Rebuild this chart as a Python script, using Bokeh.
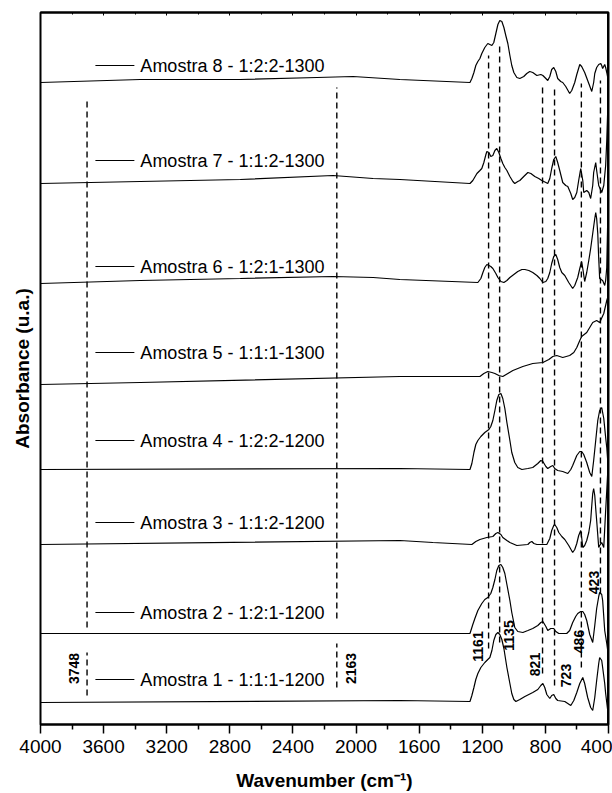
import math
from bokeh.plotting import figure
from bokeh.models import Range1d, LinearAxis, FixedTicker, Span
from bokeh.core.properties import value
from bokeh.embed import file_html
from bokeh.resources import INLINE

FONT = "Liberation Sans"

# ---------------- data ----------------
wn8 = [4000, 3367, 2734, 2247, 2019, 1722, 1278, 1266, 1253, 1241, 1228, 1215, 1203, 1184, 1165, 1152, 1139, 1127, 1114, 1101, 1089, 1076, 1063, 1051, 1038, 1025, 1013, 1000, 981, 962, 937, 918, 899, 880, 854, 829, 816, 797, 785, 772, 760, 747, 734, 722, 703, 690, 671, 646, 633, 614, 601, 582, 570, 551, 532, 506, 494, 487, 475, 462, 449, 443, 437, 424, 418, 411, 405]
ab8 = [6.42, 6.45, 6.45, 6.47, 6.48, 6.45, 6.42, 6.46, 6.52, 6.59, 6.63, 6.66, 6.71, 6.77, 6.81, 6.80, 6.79, 6.82, 6.91, 7.00, 7.04, 7.03, 6.97, 6.89, 6.81, 6.69, 6.59, 6.52, 6.47, 6.46, 6.48, 6.51, 6.53, 6.52, 6.49, 6.50, 6.49, 6.46, 6.44, 6.48, 6.55, 6.57, 6.53, 6.46, 6.43, 6.42, 6.38, 6.31, 6.34, 6.42, 6.50, 6.60, 6.58, 6.52, 6.44, 6.33, 6.42, 6.51, 6.57, 6.60, 6.61, 6.59, 6.56, 6.60, 6.57, 6.52, 6.47]

wn7 = [4000, 3367, 2734, 2146, 1892, 1722, 1278, 1260, 1234, 1215, 1203, 1190, 1177, 1171, 1158, 1146, 1133, 1120, 1108, 1095, 1082, 1070, 1057, 1044, 1025, 1006, 994, 975, 962, 937, 911, 892, 867, 842, 823, 797, 785, 772, 760, 747, 734, 722, 709, 690, 671, 658, 639, 627, 614, 601, 589, 576, 563, 557, 538, 525, 513, 500, 494, 481, 475, 462, 443, 430, 418, 411, 405]
ab7 = [5.41, 5.43, 5.45, 5.49, 5.46, 5.45, 5.41, 5.44, 5.51, 5.54, 5.56, 5.62, 5.70, 5.73, 5.72, 5.68, 5.69, 5.74, 5.76, 5.72, 5.66, 5.61, 5.57, 5.54, 5.48, 5.43, 5.41, 5.43, 5.44, 5.48, 5.52, 5.51, 5.48, 5.46, 5.44, 5.42, 5.41, 5.46, 5.56, 5.65, 5.68, 5.62, 5.54, 5.42, 5.39, 5.38, 5.31, 5.25, 5.27, 5.32, 5.44, 5.56, 5.44, 5.32, 5.34, 5.32, 5.26, 5.39, 5.52, 5.62, 5.54, 5.39, 5.32, 5.39, 5.59, 5.84, 6.14]

wn6 = [4000, 3367, 2734, 2146, 1892, 1722, 1228, 1209, 1196, 1184, 1171, 1158, 1146, 1133, 1114, 1101, 1082, 1063, 1044, 1025, 1000, 975, 949, 930, 905, 880, 854, 835, 816, 797, 785, 772, 760, 747, 734, 722, 709, 696, 677, 652, 627, 614, 595, 582, 570, 563, 551, 538, 525, 513, 500, 487, 481, 475, 468, 462, 456, 437, 424, 418, 411, 405]
ab6 = [4.41, 4.44, 4.46, 4.48, 4.47, 4.45, 4.42, 4.46, 4.52, 4.57, 4.60, 4.59, 4.58, 4.56, 4.51, 4.47, 4.43, 4.42, 4.44, 4.47, 4.50, 4.53, 4.55, 4.55, 4.54, 4.52, 4.49, 4.46, 4.42, 4.43, 4.46, 4.52, 4.61, 4.68, 4.70, 4.65, 4.57, 4.52, 4.49, 4.42, 4.36, 4.39, 4.47, 4.56, 4.63, 4.56, 4.43, 4.52, 4.64, 4.76, 4.91, 5.06, 5.12, 5.06, 4.91, 4.66, 4.46, 4.44, 4.39, 4.44, 4.57, 5.04]

wn5 = [4000, 3367, 1722, 1215, 1190, 1165, 1139, 1120, 1095, 1070, 1038, 1006, 943, 880, 816, 778, 753, 728, 690, 646, 620, 601, 582, 570, 538, 519, 500, 475, 456, 430, 411, 405]
ab5 = [3.40, 3.42, 3.48, 3.48, 3.51, 3.53, 3.52, 3.51, 3.49, 3.48, 3.51, 3.54, 3.58, 3.61, 3.62, 3.65, 3.68, 3.69, 3.67, 3.69, 3.72, 3.77, 3.84, 3.88, 3.92, 3.97, 4.02, 4.04, 4.02, 4.11, 4.24, 4.27]

wn4 = [4000, 1722, 1278, 1266, 1253, 1241, 1228, 1209, 1184, 1158, 1146, 1133, 1120, 1108, 1095, 1082, 1070, 1057, 1044, 1025, 1013, 994, 975, 949, 911, 880, 848, 829, 816, 797, 785, 766, 753, 741, 722, 690, 658, 639, 627, 614, 601, 582, 570, 557, 538, 519, 506, 494, 481, 468, 456, 443, 430, 418, 411, 405]
ab4 = [2.55, 2.56, 2.55, 2.61, 2.72, 2.80, 2.84, 2.88, 2.92, 2.95, 2.98, 3.04, 3.14, 3.24, 3.30, 3.31, 3.26, 3.16, 3.02, 2.84, 2.72, 2.62, 2.57, 2.55, 2.56, 2.57, 2.61, 2.64, 2.63, 2.58, 2.56, 2.58, 2.59, 2.56, 2.54, 2.53, 2.51, 2.55, 2.59, 2.64, 2.69, 2.73, 2.73, 2.70, 2.62, 2.52, 2.48, 2.64, 2.84, 3.04, 3.14, 3.17, 3.06, 2.87, 2.77, 2.64]

wn3 = [4000, 1722, 1513, 1266, 1241, 1215, 1171, 1133, 1114, 1101, 1082, 1070, 1044, 1025, 981, 911, 899, 886, 873, 854, 791, 772, 760, 747, 741, 728, 715, 696, 677, 652, 627, 614, 601, 589, 576, 570, 563, 551, 538, 525, 513, 506, 500, 494, 487, 481, 475, 462, 456, 443, 430, 418, 411, 405]
ab3 = [1.80, 1.84, 1.82, 1.80, 1.83, 1.85, 1.87, 1.88, 1.91, 1.92, 1.90, 1.87, 1.84, 1.82, 1.79, 1.80, 1.82, 1.83, 1.81, 1.80, 1.80, 1.86, 1.94, 1.99, 2.00, 1.97, 1.92, 1.88, 1.85, 1.79, 1.72, 1.75, 1.81, 1.89, 1.94, 1.87, 1.77, 1.79, 1.84, 1.92, 2.04, 2.19, 2.31, 2.36, 2.29, 2.16, 2.04, 1.77, 1.79, 1.82, 1.77, 2.14, 2.34, 2.52]

wn2 = [4000, 1722, 1278, 1260, 1247, 1228, 1203, 1184, 1165, 1146, 1133, 1120, 1108, 1095, 1082, 1070, 1057, 1044, 1025, 1013, 994, 975, 943, 911, 880, 848, 829, 816, 797, 785, 766, 747, 734, 715, 665, 646, 627, 608, 595, 576, 563, 551, 538, 519, 500, 487, 475, 462, 456, 443, 437, 424, 411, 405]
ab2 = [0.91, 0.91, 0.91, 1.00, 1.06, 1.14, 1.21, 1.25, 1.27, 1.31, 1.37, 1.45, 1.54, 1.59, 1.60, 1.57, 1.51, 1.40, 1.24, 1.12, 0.97, 0.93, 0.92, 0.94, 0.96, 0.99, 1.02, 1.03, 0.98, 0.94, 0.96, 0.96, 0.93, 0.91, 0.91, 0.94, 1.02, 1.08, 1.11, 1.13, 1.13, 1.10, 1.04, 0.90, 0.82, 0.99, 1.16, 1.28, 1.32, 1.30, 1.24, 0.94, 0.81, 0.74]

wn1 = [4000, 1722, 1278, 1266, 1253, 1241, 1228, 1209, 1184, 1165, 1152, 1139, 1127, 1114, 1101, 1089, 1076, 1063, 1044, 1025, 1013, 1000, 987, 962, 930, 880, 848, 829, 816, 804, 791, 772, 760, 747, 734, 722, 677, 658, 639, 620, 601, 582, 563, 551, 532, 513, 500, 487, 475, 462, 456, 443, 437, 424, 418, 405]
ab1 = [0.22, 0.24, 0.23, 0.29, 0.37, 0.45, 0.51, 0.57, 0.62, 0.65, 0.67, 0.74, 0.84, 0.90, 0.92, 0.90, 0.85, 0.76, 0.57, 0.41, 0.31, 0.25, 0.23, 0.25, 0.28, 0.32, 0.35, 0.39, 0.41, 0.37, 0.30, 0.26, 0.29, 0.30, 0.26, 0.24, 0.23, 0.21, 0.19, 0.24, 0.32, 0.41, 0.47, 0.41, 0.27, 0.17, 0.14, 0.27, 0.44, 0.61, 0.67, 0.64, 0.57, 0.41, 0.31, 0.14]

series_wn = [wn1, wn2, wn3, wn4, wn5, wn6, wn7, wn8]
series_ab = [ab1, ab2, ab3, ab4, ab5, ab6, ab7, ab8]

sample_names = ["Amostra 1 - 1:1:1-1200", "Amostra 2 - 1:2:1-1200", "Amostra 3 - 1:1:2-1200",
                "Amostra 4 - 1:2:2-1200", "Amostra 5 - 1:1:1-1300", "Amostra 6 - 1:2:1-1300",
                "Amostra 7 - 1:1:2-1300", "Amostra 8 - 1:2:2-1300"]
name_y = [0.45, 1.12, 2.02, 2.84, 3.72, 4.58, 5.64, 6.59]
name_key_x0 = 3652
name_key_x1 = 3405
name_text_x = 3367

# dashed reference lines: position, top, bottom
band_x = [3705, 3705, 2122, 2122, 1160, 1090, 818, 742, 572, 451]
band_top = [6.27, 0.72, 6.37, 0.81, 6.69, 6.81, 6.39, 6.39, 6.41, 6.44]
band_bot = [0.97, 0.29, 1.06, 0.37, 0.76, 0.82, 0.51, 0.39, 0.57, 1.31]

band_labels = ["3748", "2163", "1161", "1135", "821", "723", "486", "423"]
band_label_x = [3785, 2032, 1228, 1032, 867, 671, 589, 494]
band_label_y = [0.56, 0.56, 0.78, 0.89, 0.60, 0.49, 0.83, 1.42]

x_ticks = [4000, 3600, 3200, 2800, 2400, 2000, 1600, 1200, 800, 400]
x_minor = [3800, 3400, 3000, 2600, 2200, 1800, 1400, 1000, 600]

# ---------------- figure ----------------
p = figure(width=612, height=793, x_range=Range1d(4000, 400), y_range=Range1d(0, 7.12),
           output_backend="svg", toolbar_location=None, y_axis_location=None,
           min_border_left=40, min_border_right=4, min_border_top=12, min_border_bottom=69)
p.grid.visible = False
p.outline_line_color = "black"
p.outline_line_width = 2
p.background_fill_color = "white"
p.border_fill_color = "white"

xa = p.xaxis[0]
xa.ticker = FixedTicker(ticks=x_ticks, minor_ticks=x_minor)
xa.axis_line_width = 2
xa.major_tick_out = 9
xa.major_tick_in = 0
xa.minor_tick_out = 5
xa.minor_tick_in = 0
xa.major_tick_line_width = 1.5
xa.minor_tick_line_width = 1.5
xa.major_label_text_font = FONT
xa.major_label_text_font_size = "19px"
xa.major_label_text_color = "black"
xa.major_label_standoff = 6
xa.axis_label = "Wavenumber (cm\u207b\u00b9)"
xa.axis_label_text_font = FONT
xa.axis_label_text_font_size = "19px"
xa.axis_label_text_font_style = "bold"
xa.axis_label_text_color = "black"
xa.axis_label_standoff = 14

top = LinearAxis(ticker=FixedTicker(ticks=x_ticks, minor_ticks=x_minor))
top.major_label_text_color = None
top.major_tick_in = 3
top.major_tick_out = 0
top.minor_tick_in = 2
top.minor_tick_out = 0
top.axis_line_width = 2
p.add_layout(top, "above")

left = LinearAxis(ticker=FixedTicker(ticks=[]))
left.axis_line_color = None
left.major_tick_line_color = None
left.minor_tick_line_color = None
left.major_label_text_color = None
left.axis_label = "Absorbance (u.a.)"
left.axis_label_text_font = FONT
left.axis_label_text_font_size = "19px"
left.axis_label_text_font_style = "bold"
left.axis_label_text_color = "black"
left.axis_label_standoff = 8
p.add_layout(left, "left")

p.add_layout(Span(location=400, dimension="height", line_color="black", line_width=3))

# dashed lines
p.segment(x0=band_x, y0=band_bot, x1=band_x, y1=band_top, line_color="black",
          line_width=1.4, line_dash="6 4")

# spectra
for wn, ab in zip(series_wn, series_ab):
    p.line(wn, ab, line_color="black", line_width=1.2)

# sample labels with key lines
p.segment(x0=[name_key_x0] * 8, x1=[name_key_x1] * 8, y0=name_y, y1=name_y,
          line_color="black", line_width=1)
p.text(x=[name_text_x] * 8, y=name_y, text=sample_names, text_font=value(FONT),
       text_font_size="18px", text_baseline="middle", text_align="left", text_color="black")

# band labels
p.text(x=band_label_x, y=band_label_y, text=band_labels, angle=math.pi / 2,
       text_font=value(FONT), text_font_size="14px", text_font_style="bold",
       text_align="center", text_baseline="middle", text_color="black")

open("out.html", "w").write(file_html(p, INLINE))
